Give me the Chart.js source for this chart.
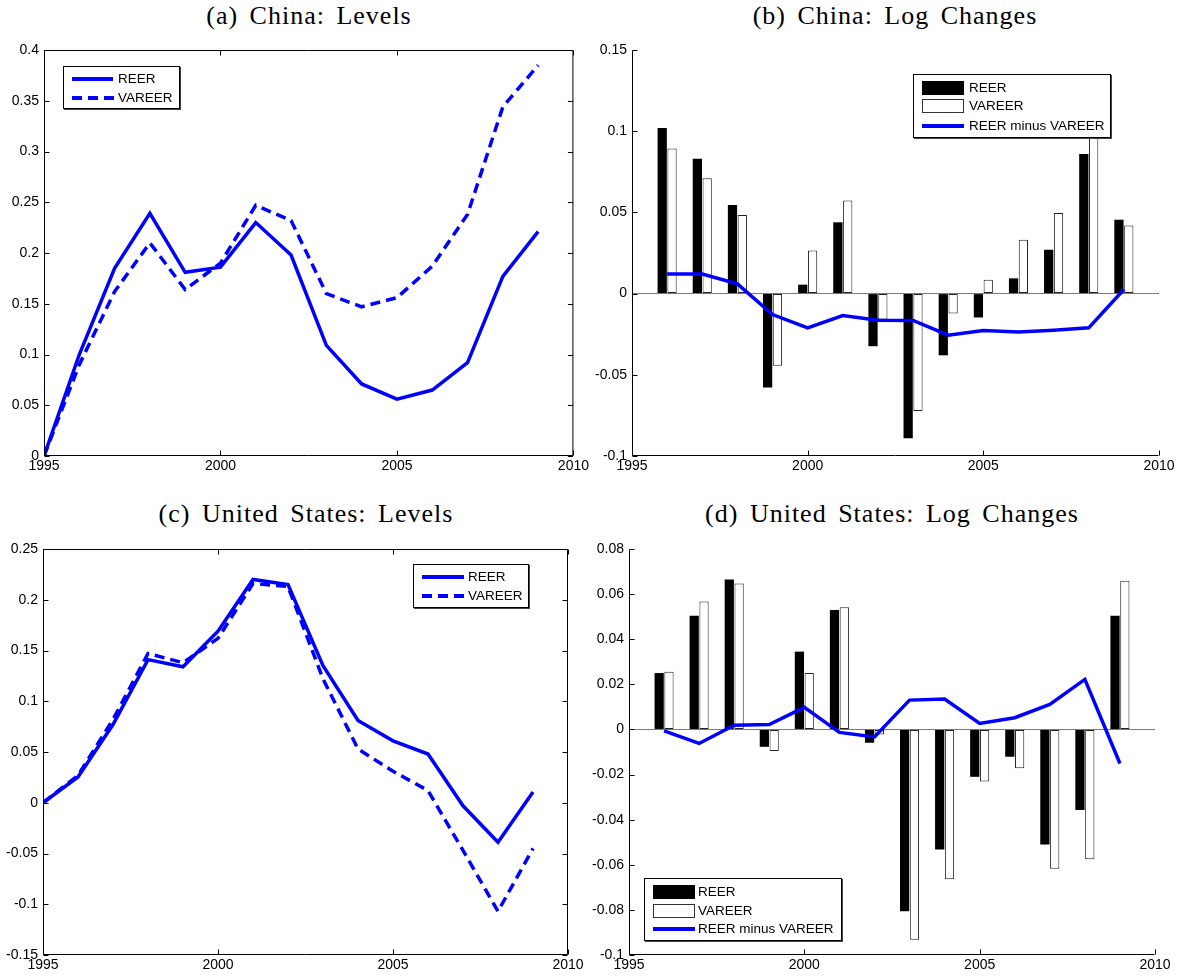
<!DOCTYPE html>
<html>
<head>
<meta charset="utf-8">
<script src="https://cdn.jsdelivr.net/npm/chart.js@4.4.1/dist/chart.umd.min.js"></script>
<style>
    body { margin: 0; background: #fff; width: 1182px; height: 976px; position: relative; overflow: hidden;
           font-family: "Liberation Sans", Arial, sans-serif; }
    canvas { position: absolute; }
    .title { position: absolute; font-family: "Liberation Serif", serif; font-size: 26px; line-height: 26px;
             letter-spacing: 1px; word-spacing: 4px; white-space: nowrap; transform: translateX(-50%); color: #000; }
    .legend { position: absolute; border: 1px solid #000; background: #fff; box-shadow: 1px 1px 0 #444;
              font-size: 13.5px; color: #000; }
    .legend .item { position: absolute; left: 0; height: 0; }
    .legend .txt { position: absolute; top: -8px; line-height: 16px; white-space: nowrap; }
    .legend .solid { position: absolute; top: -2px; height: 4px; background: #0000ff; }
    .legend .dash { position: absolute; top: -2px; height: 4px;
                    background: repeating-linear-gradient(to right, #0000ff 0 10px, transparent 10px 16px); }
    .legend .blk { position: absolute; top: -7px; height: 14px; background: #000; }
    .legend .wht { position: absolute; top: -7px; height: 14px; box-sizing: border-box; border: 1px solid #333; background: #fff; }
</style>
</head>
<body>

<div class="title" style="left:309px;top:3px">(a) China: Levels</div>
<div class="title" style="left:895px;top:3px">(b) China: Log Changes</div>
<div class="title" style="left:306px;top:501px">(c) United States: Levels</div>
<div class="title" style="left:892px;top:501px">(d) United States: Log Changes</div>

<canvas id="chA" width="591" height="488" style="left:0;top:0"></canvas>
<canvas id="chB" width="591" height="488" style="left:591px;top:0"></canvas>
<canvas id="chC" width="591" height="488" style="left:0;top:488px"></canvas>
<canvas id="chD" width="591" height="488" style="left:591px;top:488px"></canvas>

<div class="legend" style="left:63px;top:66px;width:115px;height:41px">
    <div class="item" style="top:12px"><div class="solid" style="left:8px;width:41px"></div><div class="txt" style="left:54px">REER</div></div>
    <div class="item" style="top:31px"><div class="dash" style="left:8px;width:42px"></div><div class="txt" style="left:54px">VAREER</div></div>
</div>
<div class="legend" style="left:913px;top:74px;width:196px;height:62px">
    <div class="item" style="top:13px"><div class="blk" style="left:8px;width:42px"></div><div class="txt" style="left:55px">REER</div></div>
    <div class="item" style="top:31px"><div class="wht" style="left:8px;width:42px"></div><div class="txt" style="left:55px">VAREER</div></div>
    <div class="item" style="top:51px"><div class="solid" style="left:8px;width:42px"></div><div class="txt" style="left:55px">REER minus VAREER</div></div>
</div>
<div class="legend" style="left:413px;top:564px;width:114px;height:42px">
    <div class="item" style="top:12px"><div class="solid" style="left:8px;width:42px"></div><div class="txt" style="left:54px">REER</div></div>
    <div class="item" style="top:31px"><div class="dash" style="left:8px;width:42px"></div><div class="txt" style="left:54px">VAREER</div></div>
</div>
<div class="legend" style="left:644px;top:878px;width:196px;height:61px">
    <div class="item" style="top:13px"><div class="blk" style="left:8px;width:42px"></div><div class="txt" style="left:53px">REER</div></div>
    <div class="item" style="top:32px"><div class="wht" style="left:8px;width:42px"></div><div class="txt" style="left:53px">VAREER</div></div>
    <div class="item" style="top:50px"><div class="solid" style="left:8px;width:42px"></div><div class="txt" style="left:53px">REER minus VAREER</div></div>
</div>

<script>
// years
const levelYears = [1995, 1996, 1997, 1998, 1999, 2000, 2001, 2002, 2003, 2004, 2005, 2006, 2007, 2008, 2009];
const changeYears = [1996, 1997, 1998, 1999, 2000, 2001, 2002, 2003, 2004, 2005, 2006, 2007, 2008, 2009];
const xTickValues = [1995, 2000, 2005, 2010];

// China
const chinaReer   = [0, 0.100, 0.185, 0.239, 0.181, 0.186, 0.230, 0.198, 0.109, 0.071, 0.056, 0.065, 0.092, 0.177, 0.221];
const chinaVareer = [0, 0.090, 0.162, 0.210, 0.164, 0.190, 0.247, 0.232, 0.160, 0.147, 0.156, 0.187, 0.238, 0.344, 0.385];
const chinaReerChg   = [0.102, 0.083, 0.0545, -0.0578, 0.0055, 0.0439, -0.0324, -0.089, -0.038, -0.0147, 0.0094, 0.027, 0.0859, 0.0455];
const chinaVareerChg = [0.0893, 0.0711, 0.0484, -0.0445, 0.0266, 0.0574, -0.016, -0.0723, -0.0123, 0.0086, 0.0332, 0.0496, 0.107, 0.042];
const chinaDiff      = [0.0121, 0.0121, 0.006, -0.0129, -0.0211, -0.0135, -0.0164, -0.0165, -0.0256, -0.0227, -0.0236, -0.0225, -0.0211, 0.0025];

// United States
const usReer   = [0, 0.0254, 0.077, 0.141, 0.134, 0.169, 0.220, 0.215, 0.135, 0.081, 0.061, 0.048, -0.003, -0.039, 0.0105];
const usVareer = [0, 0.027, 0.082, 0.147, 0.138, 0.162, 0.216, 0.213, 0.122, 0.053, 0.031, 0.012, -0.047, -0.107, -0.045];
const usReerChg   = [0.025, 0.0504, 0.0665, -0.0077, 0.0345, 0.053, -0.0059, -0.0806, -0.0532, -0.021, -0.0121, -0.051, -0.0357, 0.0504];
const usVareerChg = [0.0256, 0.0567, 0.0647, -0.0096, 0.025, 0.0542, -0.0022, -0.0932, -0.0664, -0.0231, -0.0172, -0.0618, -0.0576, 0.0659];
const usDiff      = [-0.0006, -0.0062, 0.0019, 0.0022, 0.0098, -0.0013, -0.0033, 0.013, 0.0135, 0.0027, 0.0052, 0.0111, 0.0222, -0.0151];

const BLUE = '#0000ff';
const tickFont = { family: 'Liberation Sans', size: 14 };

function pts(xs, ys) {
    return xs.map((x, i) => ({ x: x, y: ys[i] }));
}

// matlab style frame: inward ticks, optional full box
const framePlugin = {
    id: 'frame',
    afterDatasetsDraw(chart, args, opts) {
        const ctx = chart.ctx;
        const a = chart.chartArea;
        const xs = chart.scales.x, ys = chart.scales.y;
        const len = 5;
        const L = a.left + 0.5, R = a.right - 0.5, T = a.top + 0.5, B = a.bottom - 0.5;
        ctx.save();
        ctx.strokeStyle = '#000';
        ctx.lineWidth = 1;
        ctx.beginPath();
        ctx.moveTo(L, T); ctx.lineTo(L, B); ctx.lineTo(R, B);
        if (opts.box) { ctx.lineTo(R, T); ctx.lineTo(L, T); }
        xTickValues.forEach(v => {
            const px = Math.round(xs.getPixelForValue(v)) + 0.5;
            ctx.moveTo(px, B); ctx.lineTo(px, B - len);
            if (opts.box) { ctx.moveTo(px, T); ctx.lineTo(px, T + len); }
        });
        ys.ticks.forEach(t => {
            const py = Math.round(ys.getPixelForValue(t.value)) + 0.5;
            ctx.moveTo(L, py); ctx.lineTo(L + len, py);
            if (opts.box) { ctx.moveTo(R, py); ctx.lineTo(R - len, py); }
        });
        ctx.stroke();
        ctx.restore();
    }
};

function makeChart(id, datasets, yMin, yMax, yStep, box, g) {
    return new Chart(document.getElementById(id), {
        type: 'bar',
        data: { datasets: datasets },
        plugins: [framePlugin],
        options: {
            responsive: false,
            animation: false,
            devicePixelRatio: 1,
            layout: { padding: { left: 0, top: g.top, right: g.right, bottom: 0 } },
            plugins: {
                legend: { display: false },
                tooltip: { enabled: false },
                frame: { box: box }
            },
            scales: {
                x: {
                    type: 'linear',
                    min: 1995, max: 2010,
                    offset: false,
                    afterBuildTicks: s => { s.ticks = xTickValues.map(v => ({ value: v })); },
                    ticks: { font: tickFont, color: '#000', padding: 2, maxRotation: 0, autoSkip: false,
                             callback: v => String(v) },
                    grid: { display: false, drawTicks: false, offset: false },
                    border: { display: false },
                    afterFit: s => { s.height = g.xh; }
                },
                y: {
                    min: yMin, max: yMax,
                    beginAtZero: false,
                    ticks: { stepSize: yStep, font: tickFont, color: '#000', padding: 5,
                             callback: v => String(+(+v).toFixed(3)) },
                    grid: box ? { display: false, drawTicks: false } : {
                        drawTicks: false,
                        lineWidth: 1,
                        color: c => (c.tick && Math.abs(c.tick.value) < 1e-9) ? '#7a7a7a' : 'rgba(0,0,0,0)'
                    },
                    border: { display: false },
                    afterFit: s => { s.width = g.yw; }
                }
            }
        }
    });
}

function levelSets(reer, vareer) {
    return [
        { type: 'line', label: 'REER', data: pts(levelYears, reer), borderColor: BLUE, borderWidth: 3.5,
          pointRadius: 0, tension: 0, fill: false },
        { type: 'line', label: 'VAREER', data: pts(levelYears, vareer), borderColor: BLUE, borderWidth: 3.5,
          borderDash: [10, 6], pointRadius: 0, tension: 0, fill: false }
    ];
}

function changeSets(reerChg, vareerChg, diff) {
    return [
        { type: 'line', label: 'REER minus VAREER', order: 0, data: pts(changeYears, diff), borderColor: BLUE,
          borderWidth: 3.5, pointRadius: 0, tension: 0, fill: false },
        { label: 'REER', order: 1, data: pts(changeYears, reerChg), backgroundColor: '#000', borderWidth: 0,
          categoryPercentage: 0.56, barPercentage: 0.94 },
        { label: 'VAREER', order: 1, data: pts(changeYears, vareerChg), backgroundColor: '#fff', borderColor: '#222',
          borderWidth: 1, borderSkipped: false, categoryPercentage: 0.56, barPercentage: 0.94 }
    ];
}

makeChart('chA', levelSets(chinaReer, chinaVareer), 0, 0.4, 0.05, true, { yw: 44, xh: 32, top: 50, right: 17 });
makeChart('chB', changeSets(chinaReerChg, chinaVareerChg, chinaDiff), -0.1, 0.15, 0.05, false, { yw: 41, xh: 32, top: 50, right: 23 });
makeChart('chC', levelSets(usReer, usVareer), -0.15, 0.25, 0.05, true, { yw: 43, xh: 21, top: 61, right: 23 });
makeChart('chD', changeSets(usReerChg, usVareerChg, usDiff), -0.1, 0.08, 0.02, false, { yw: 38, xh: 21, top: 61, right: 27 });
</script>
</body>
</html>
